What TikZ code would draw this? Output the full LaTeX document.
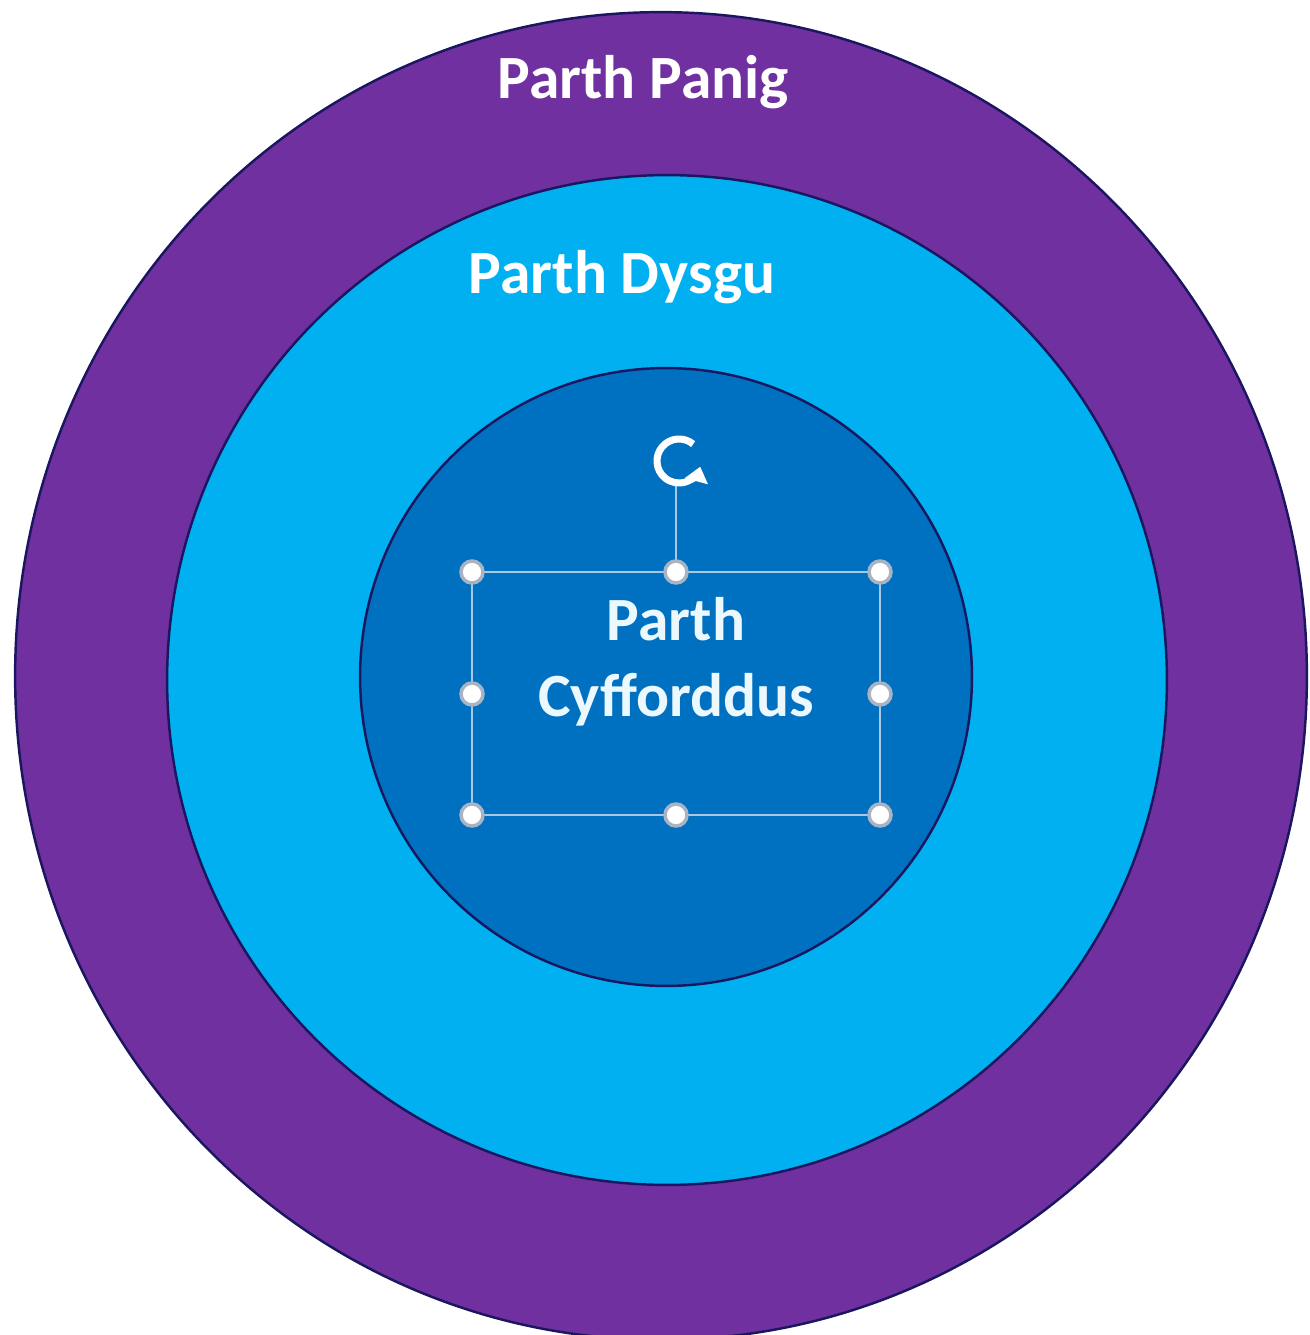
\documentclass[tikz,border=0pt]{standalone}
\usepackage{fontspec}
\setmainfont{Carlito}
\usetikzlibrary{arrows.meta}
\definecolor{panig}{HTML}{7030A0}
\definecolor{dysgu}{HTML}{00B0F0}
\definecolor{cyff}{HTML}{0070C0}
\definecolor{rim}{HTML}{1A1760}
\definecolor{selline}{HTML}{A9C8E8}
\definecolor{handrim}{HTML}{A8B4C4}
\tikzset{
  ring/.style={draw=rim, line width=1.4pt},
  zonelabel/.style={text=white, font=\fontsize{35}{42}\selectfont\bfseries, align=center, inner sep=0pt},
  selbox/.style={draw=selline, line width=1.3pt},
  handle/.style={circle, fill=white, draw=handrim, line width=2pt, minimum size=0.44cm, inner sep=0pt},
}
\begin{document}
\begin{tikzpicture}[x=0.02cm,y=-0.02cm]
\useasboundingbox (0,0) rectangle (1309,1335);
\clip (0,0) rectangle (1309,1335);
% zones
\filldraw[ring, fill=panig] (661,676) ellipse [x radius=12.92cm, y radius=13.28cm];
\filldraw[ring, fill=dysgu] (667,680) ellipse [x radius=10.0cm, y radius=10.1cm];
\filldraw[ring, fill=cyff] (666,677) ellipse [x radius=6.12cm, y radius=6.18cm];
% labels
\node[zonelabel] (panig) at (643,82) {Parth Panig};
\node[zonelabel] (dysgu) at (622,277) {Parth Dysgu};
\node[zonelabel, text=white!92!cyan] (cyfflabel) at (676,662) {Parth\\[1pt]Cyfforddus};
% selection frame
\coordinate (tl) at (472,572);
\coordinate (tr) at (880,572);
\coordinate (bl) at (472,815);
\coordinate (br) at (880,815);
\draw[selbox] (tl) rectangle (br);
\coordinate (rot) at (679,461);
\coordinate (stemtop) at (676,486);
\coordinate (tm) at (676,572);
\draw[selbox] (stemtop) -- (tm);
\node[handle] (h1) at (tl) {};
\node[handle] (h2) at (tm) {};
\node[handle] (h3) at (tr) {};
\node[handle] (h4) at (472,694) {};
\node[handle] (h5) at (880,694) {};
\node[handle] (h6) at (bl) {};
\node[handle] (h7) at (676,815) {};
\node[handle] (h8) at (br) {};
% rotation icon
\draw[white, line width=4pt, -{Triangle[length=0.3cm,width=0.46cm]}]
  (rot) ++(50:0.44cm) arc[start angle=50, end angle=345, radius=0.44cm];
\end{tikzpicture}
\end{document}
